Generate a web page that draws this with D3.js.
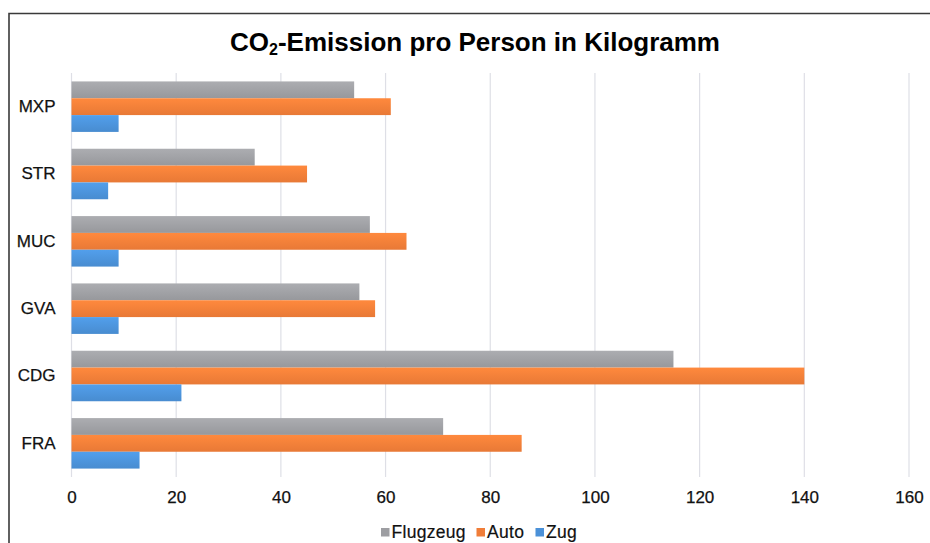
<!DOCTYPE html>
<html>
<head>
<meta charset="utf-8">
<script src="https://cdn.jsdelivr.net/npm/d3@7"></script>
<style>
  html, body { margin: 0; padding: 0; background: #fff; }
  svg { display: block; font-family: "Liberation Sans", Arial, Helvetica, sans-serif; }
</style>
</head>
<body>
<svg id="chart" width="930" height="543"></svg>
<script>
// ---- data ----
const categories = ["MXP", "STR", "MUC", "GVA", "CDG", "FRA"];
const seriesNames = ["Flugzeug", "Auto", "Zug"];
const flugzeug = [54, 35, 57, 55, 115, 71];
const auto = [61, 45, 64, 58, 140, 86];
const zug = [9, 7, 9, 9, 21, 13];
const xTicks = [0, 20, 40, 60, 80, 100, 120, 140, 160];
const colors = ["#9d9ea2", "#f07d38", "#4b91d8"];
const titleMain = "CO";
const titleSub = "2";
const titleRest = "-Emission pro Person in Kilogramm";

const seriesValues = [flugzeug, auto, zug];

const svg = d3.select("#chart");

// frame
svg.append("path")
  .attr("d", "M9,543 V13.5 H930")
  .attr("fill", "none")
  .attr("stroke", "#3a3a3a")
  .attr("stroke-width", 1.6);

const plot = { left: 71.5, right: 909, top: 73, bottom: 477 };

const x = d3.scaleLinear().domain([0, 160]).range([plot.left, plot.right]);
const y = d3.scaleBand().domain(categories).range([plot.top, plot.bottom])
  .paddingInner(0.25).paddingOuter(0.125);
const ySub = d3.scaleBand().domain(seriesNames).range([0, y.bandwidth()]);

// gradients
const defs = svg.append("defs");
colors.forEach((c, i) => {
  const g = defs.append("linearGradient").attr("id", "g" + i)
    .attr("x1", 0).attr("y1", 0).attr("x2", 0).attr("y2", 1);
  g.append("stop").attr("offset", "0%").attr("stop-color", d3.color(c).brighter(0.25));
  g.append("stop").attr("offset", "100%").attr("stop-color", d3.color(c).darker(0.1));
});

// gridlines
svg.append("g").selectAll("line").data(xTicks).join("line")
  .attr("x1", d => x(d)).attr("x2", d => x(d))
  .attr("y1", plot.top).attr("y2", plot.bottom)
  .attr("stroke", "#dedfe6").attr("stroke-width", 1.2);

// bars
const groups = svg.append("g").selectAll("g").data(categories).join("g")
  .attr("transform", d => `translate(0,${y(d)})`);
groups.selectAll("rect")
  .data((cat, ci) => seriesNames.map((s, si) => ({ s, si, v: seriesValues[si][ci] })))
  .join("rect")
  .attr("x", x(0))
  .attr("y", d => ySub(d.s))
  .attr("width", d => x(d.v) - x(0))
  .attr("height", ySub.bandwidth())
  .attr("fill", d => `url(#g${d.si})`);

// y axis labels
const yAxis = d3.axisLeft(y).tickSize(0).tickPadding(16);
const yg = svg.append("g").attr("transform", `translate(${plot.left},0)`).call(yAxis);
yg.select(".domain").remove();
yg.selectAll("text").attr("font-size", 17).attr("fill", "#111")
  .attr("font-family", "'Liberation Sans', Arial, sans-serif")
  .attr("stroke", "#111").attr("stroke-width", 0.25);

// x axis labels
const xAxis = d3.axisBottom(x).tickValues(xTicks).tickSize(0).tickPadding(14);
const xg = svg.append("g").attr("transform", `translate(0,${plot.bottom})`).call(xAxis);
xg.select(".domain").remove();
xg.selectAll("text").attr("font-size", 17).attr("fill", "#111")
  .attr("font-family", "'Liberation Sans', Arial, sans-serif")
  .attr("stroke", "#111").attr("stroke-width", 0.25);

// title
const title = svg.append("text")
  .attr("x", 475).attr("y", 51)
  .attr("text-anchor", "middle")
  .attr("font-size", 26).attr("font-weight", "bold").attr("fill", "#000");
title.append("tspan").text(titleMain);
title.append("tspan").attr("font-size", 16).attr("dy", 4).text(titleSub);
title.append("tspan").attr("dy", -4).text(titleRest);

// legend
const legendX = [381, 476.5, 535.5];
const legend = svg.append("g").selectAll("g").data(seriesNames).join("g")
  .attr("transform", (d, i) => `translate(${legendX[i]},528)`);
legend.append("rect").attr("width", 8.5).attr("height", 8.5)
  .attr("fill", (d, i) => colors[i]);
legend.append("text").attr("x", 10.5).attr("y", 9.5)
  .attr("font-size", 17.5).attr("letter-spacing", 0.3)
  .attr("fill", "#111").attr("stroke", "#111").attr("stroke-width", 0.2)
  .text(d => d);
</script>
</body>
</html>
